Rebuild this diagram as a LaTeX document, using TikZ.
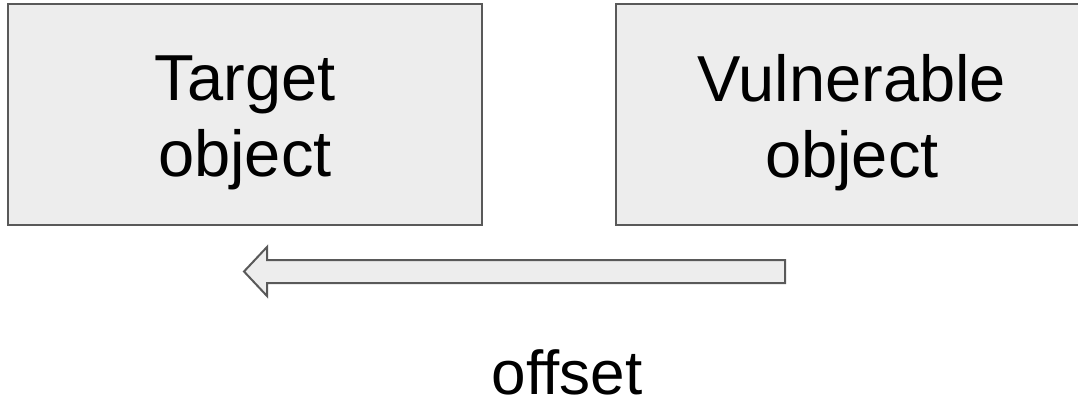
\documentclass[tikz,border=0pt]{standalone}
\usepackage{fontspec}
\setmainfont{Liberation Sans}
\begin{document}
\begin{tikzpicture}[x=1pt,y=-1pt,
  boxstyle/.style={draw=black!65,line width=2pt,fill=black!7,inner sep=0pt},
  boxtext/.style={inner sep=0pt,align=center,font=\fontsize{65}{76}\selectfont},
  arrowstyle/.style={draw=black!65,line width=2pt,fill=black!7,line join=miter}]
\useasboundingbox (0,0) rectangle (1078,406);
\node[boxstyle,minimum width=474,minimum height=220] (target) at (245,114.5) {};
\node[boxstyle,minimum width=472,minimum height=220] (vuln) at (852,114.5) {};
\node[boxtext] (targettext) at ([yshift=-8pt]target.center) {Target\\object};
\node[boxtext] (vulntext) at ([yshift=-8pt]vuln.center) {Vulnerable\\object};
\coordinate (tail) at (785,271.5);
\coordinate (tip) at (244,271.5);
\draw[arrowstyle] (tail) ++(0,-11.5) -- (267,260) -- (267,247) -- (tip) -- (267,296) -- (267,283) -- (785,283) -- cycle;
\node[font=\fontsize{62}{75}\selectfont,anchor=base] (offset) at (567,394) {offset};
\end{tikzpicture}
\end{document}
